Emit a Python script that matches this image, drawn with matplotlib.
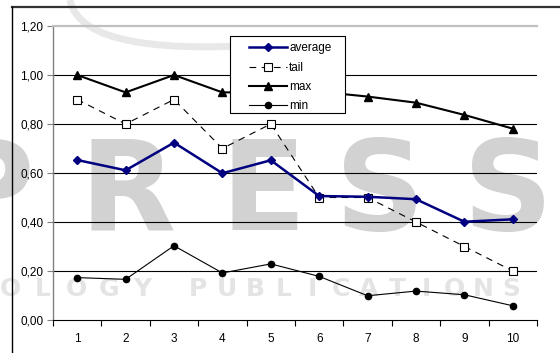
import matplotlib
matplotlib.use('Agg')
import matplotlib.pyplot as plt
from matplotlib.lines import Line2D
from matplotlib.path import Path
from matplotlib.patches import PathPatch, Rectangle
from matplotlib.ticker import FuncFormatter, FixedLocator

plt.rcParams['font.family'] = ['Liberation Sans', 'DejaVu Sans']

runs = [1, 2, 3, 4, 5, 6, 7, 8, 9, 10]
average = [0.653, 0.611, 0.724, 0.599, 0.652, 0.506, 0.503, 0.493, 0.401, 0.411]
tail = [0.9, 0.8, 0.9, 0.7, 0.8, 0.5, 0.5, 0.4, 0.3, 0.2]
maxv = [1.0, 0.929, 1.0, 0.929, 0.93, 0.932, 0.912, 0.887, 0.837, 0.781]
minv = [0.173, 0.166, 0.303, 0.192, 0.229, 0.178, 0.099, 0.118, 0.103, 0.058]

W, H = 560, 353
fig = plt.figure(figsize=(W / 100, H / 100), dpi=100)

def px(x, y):
    return x / W, 1 - y / H

# publisher watermark behind the chart
wm = '#d2d2d2'
for ch, x in [('P', -12), ('R', 128), ('E', 263), ('S', 380), ('S', 508)]:
    fx, fy = px(x, 230)
    fig.text(fx, fy, ch, fontsize=90, fontweight='bold', color=wm,
             family='DejaVu Sans', ha='center', va='baseline', zorder=-5)
for i, ch in enumerate('OLOGY'):
    fx, fy = px(10 + i * 33, 296)
    fig.text(fx, fy, ch, fontsize=18, fontweight='bold', color='#e4e4e4',
             family='DejaVu Sans', ha='center', va='baseline', zorder=-5)
for i, ch in enumerate('PUBLICATIONS'):
    fx, fy = px(198 + i * 28.5, 296)
    fig.text(fx, fy, ch, fontsize=18, fontweight='bold', color='#e4e4e4',
             family='DejaVu Sans', ha='center', va='baseline', zorder=-5)
arc = Path([px(70, 0), px(82, 62), px(300, 42)], [Path.MOVETO, Path.CURVE3, Path.CURVE3])
fig.patches.append(PathPatch(arc, transform=fig.transFigure, fill=False,
                             edgecolor='#e8e8e8', lw=5, zorder=-5))

# chart area frame (cut off at the right and bottom)
fig.add_artist(Line2D([12 / W, 1.0], [1 - 6.5 / H] * 2, color='#333333', lw=1.6,
                      transform=fig.transFigure))
fig.add_artist(Line2D([12 / W] * 2, [0, 1 - 6.5 / H], color='black', lw=1.0,
                      transform=fig.transFigure))

ax = fig.add_axes([53 / W, 1 - 320 / H, (537 - 53) / W, (320 - 26) / H])
ax.patch.set_alpha(0)

ax.plot(runs, average, color='#000080', lw=1.8, marker='D', ms=4,
        label='average', zorder=5)
ax.plot(runs, tail, color='black', lw=0.8, ls=(0, (6, 5)), marker='s', ms=6,
        mfc='white', mec='black', mew=0.8, label='tail', zorder=4)
ax.plot(runs, maxv, color='black', lw=1.5, marker='^', ms=5.5, label='max', zorder=4)
ax.plot(runs, minv, color='black', lw=0.8, marker='o', ms=4.5, label='min', zorder=4)

ax.set_xlim(0.5, 10.5)
ax.set_ylim(0, 1.2)
ax.set_yticks([0, 0.2, 0.4, 0.6, 0.8, 1.0, 1.2])
ax.yaxis.set_major_formatter(FuncFormatter(lambda v, p: f'{v:.2f}'.replace('.', ',')))
ax.set_xticks(runs)
ax.set_xticklabels([str(r) for r in runs])
ax.xaxis.set_minor_locator(FixedLocator([r + 0.5 for r in range(0, 11)]))
ax.tick_params(axis='x', which='major', length=0, pad=9, labelsize=8.5)
ax.tick_params(axis='x', which='minor', length=4, width=0.8, direction='out')
ax.tick_params(axis='y', length=4, width=0.8, color='#808080', pad=3, labelsize=8.5)

for v in [0.2, 0.4, 0.6, 0.8, 1.0]:
    ax.axhline(v, color='black', lw=0.8, zorder=1)
ax.spines['right'].set_visible(False)
ax.spines['top'].set_color('#c0c0c0')
ax.spines['top'].set_linewidth(1.6)
ax.spines['left'].set_color('#808080')
ax.spines['left'].set_linewidth(1.0)
ax.spines['bottom'].set_color('black')
ax.spines['bottom'].set_linewidth(0.8)

# legend box: white panel with black border, entries placed inside it
x0, x1 = (230 - 53) / 484, (345 - 53) / 484
y0, y1 = (320 - 113) / 294, (320 - 36) / 294
ax.add_patch(Rectangle((x0, y0), x1 - x0, y1 - y0, transform=ax.transAxes,
                       facecolor='white', edgecolor='black', lw=0.8, zorder=9))
leg = ax.legend(loc='upper left', bbox_to_anchor=((250 - 53) / 484 - 0.006, (320 - 40) / 294),
                fontsize=8.5, frameon=False, handlelength=3.2, handletextpad=0.15,
                labelspacing=0.62, borderpad=0.2, borderaxespad=0)
leg.set_zorder(10)

fig.savefig('out.png', dpi=100)
